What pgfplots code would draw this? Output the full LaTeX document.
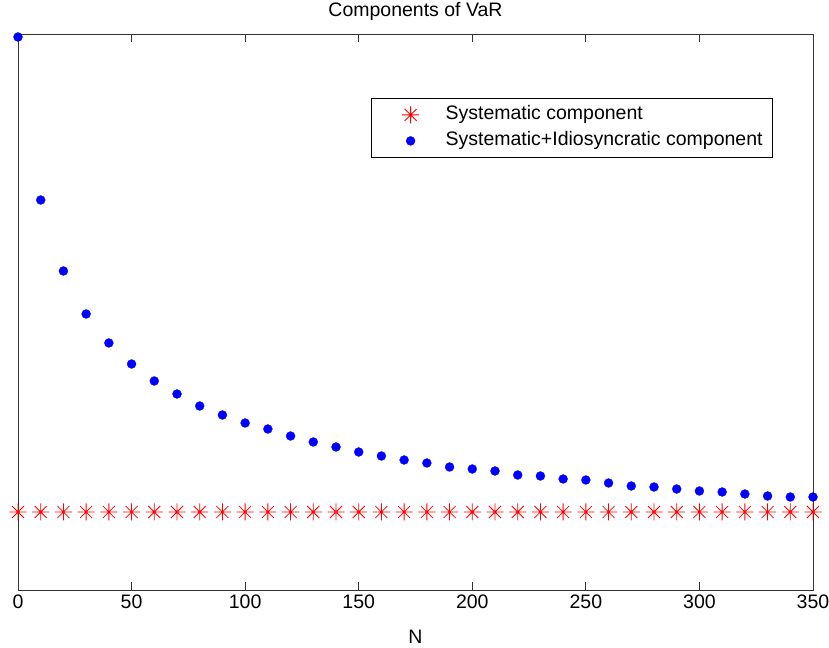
\documentclass[border=0pt]{standalone}
\usepackage{pgfplots}
\pgfplotsset{compat=1.18}
\usepackage{fontspec}
\setmainfont{Liberation Sans}
\pgfdeclareplotmark{mstar}{%
  \pgfpathmoveto{\pgfpoint{-\pgfplotmarksize}{0pt}}\pgfpathlineto{\pgfpoint{\pgfplotmarksize}{0pt}}%
  \pgfpathmoveto{\pgfpoint{0pt}{-\pgfplotmarksize}}\pgfpathlineto{\pgfpoint{0pt}{\pgfplotmarksize}}%
  \pgfpathmoveto{\pgfpoint{-0.707\pgfplotmarksize}{-0.707\pgfplotmarksize}}\pgfpathlineto{\pgfpoint{0.707\pgfplotmarksize}{0.707\pgfplotmarksize}}%
  \pgfpathmoveto{\pgfpoint{-0.707\pgfplotmarksize}{0.707\pgfplotmarksize}}\pgfpathlineto{\pgfpoint{0.707\pgfplotmarksize}{-0.707\pgfplotmarksize}}%
  \pgfusepathqstroke}
\newcommand{\cf}{\fontsize{19.5bp}{22bp}\selectfont}
\begin{document}
\begin{tikzpicture}
\useasboundingbox (-18bp,-58bp) rectangle (811bp,590bp);
\begin{axis}[
  scale only axis,
  width=795bp, height=556bp,
  xmin=0, xmax=350, ymin=0, ymax=556,
  xtick={0,50,...,350},
  ytick=\empty,
  tick align=inside,
  major tick length=8bp,
  axis line style={black!80, line width=0.8bp},
  every tick/.style={black!80, line width=0.8bp},
  font=\cf,
  /pgf/number format/assume math mode=true,
  xticklabel style={font=\cf, anchor=base},
  every x tick label/.append style={yshift=-18bp},
  title={Components of VaR},
  title style={font=\cf, at={(0.5,1)}, anchor=base, yshift=12bp},
  xlabel={N},
  xlabel style={font=\cf, at={(0.5,0)}, anchor=base, yshift=-53bp},
  clip=false,
  legend style={at={(0.9497,0.8849)}, anchor=north east, draw=black, line width=0.8bp,
    inner xsep=7bp, inner ysep=6bp, row sep=5bp,
    nodes={inner xsep=3bp, inner ysep=2bp, text height=13bp, text depth=4bp, font=\cf}},
  legend cell align=left,
  legend image code/.code={\path[draw=none,fill=none] (0bp,0bp) -- (64bp,0bp); \draw[#1] plot[only marks] coordinates {(32bp,0bp)};},
]
\addplot[only marks, mark=mstar, mark size=8.5bp, red, line width=0.8bp] coordinates {
(0,78)(10,78)(20,78)(30,78)(40,78)(50,78)(60,78)(70,78)(80,78)(90,78)
(100,78)(110,78)(120,78)(130,78)(140,78)(150,78)(160,78)(170,78)(180,78)(190,78)
(200,78)(210,78)(220,78)(230,78)(240,78)(250,78)(260,78)(270,78)(280,78)(290,78)
(300,78)(310,78)(320,78)(330,78)(340,78)(350,78)};
\addlegendentry{Systematic component}
\addplot[only marks, mark=*, mark size=4.5bp, blue, mark options={draw=blue, fill=blue, line width=0.3bp}] coordinates {
(0,553)(10,390)(20,319)(30,276)(40,247)(50,226)(60,209)(70,196)(80,184)(90,175)
(100,167)(110,161)(120,154)(130,148)(140,143)(150,138)(160,134)(170,130)(180,127)(190,123)
(200,121)(210,119)(220,115)(230,114)(240,111)(250,110)(260,107)(270,104)(280,103)(290,101)
(300,99)(310,98)(320,96)(330,94)(340,93)(350,93)};
\addlegendentry{Systematic+Idiosyncratic component}
\end{axis}
\end{tikzpicture}
\end{document}
